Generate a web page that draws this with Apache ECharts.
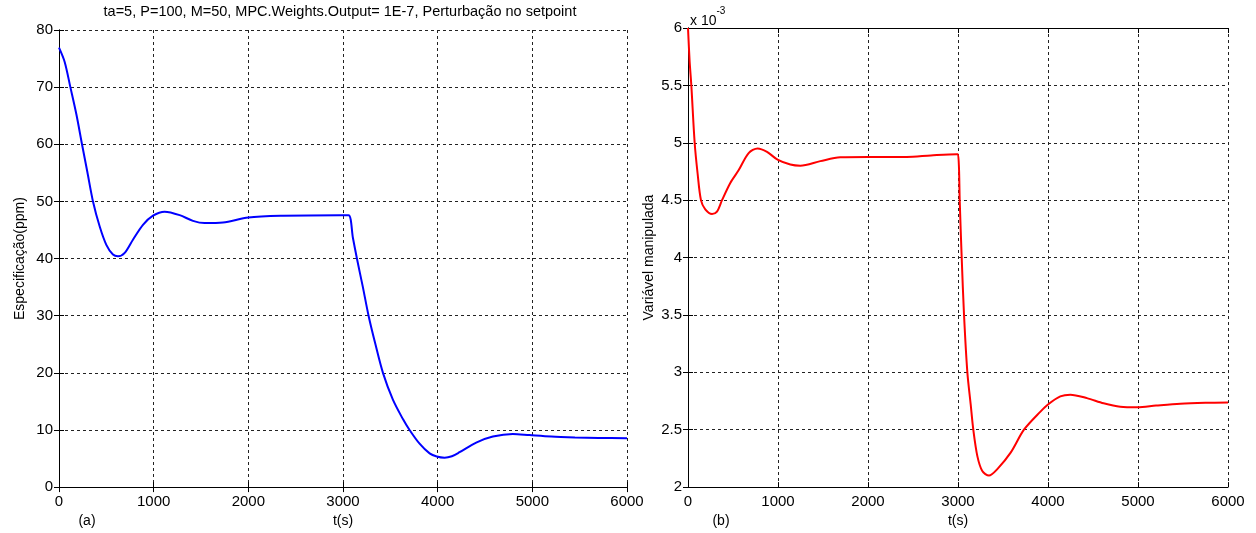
<!DOCTYPE html>
<html>
<head>
<meta charset="utf-8">
<script src="https://cdn.jsdelivr.net/npm/echarts@6/dist/echarts.min.js"></script>
<style>
  html, body { margin: 0; padding: 0; background: #fff; }
  #chart { width: 1256px; height: 533px; }
</style>
</head>
<body>
<div id="chart"></div>
<script>
// (a) Especificação (ppm) versus t(s)
const timeA = [0, 60, 120, 184, 243, 300, 359, 430, 500, 570, 623, 694, 781, 887, 993, 1116, 1275, 1415, 1538, 1732,
  2000, 2366, 2964, 3059, 3105, 3147, 3210, 3270, 3344, 3422, 3527, 3633, 3703, 3809, 3915, 3990, 4073, 4150, 4231,
  4407, 4583, 4794, 4970, 5200, 5450, 5700, 6000];
const specA = [76.9, 74.4, 70, 65.2, 60, 55.1, 50, 45.6, 42.4, 40.7, 40.4, 41.0, 43.3, 45.9, 47.5, 48.2, 47.6, 46.6,
  46.2, 46.3, 47.2, 47.5, 47.6, 47.6, 43.6, 40, 35.0, 30, 24.9, 20, 15.3, 11.9, 10, 7.6, 5.9, 5.35, 5.15, 5.4, 6.1,
  7.8, 8.85, 9.3, 9.1, 8.85, 8.7, 8.6, 8.55];

// (b) Variável manipulada (x 10^-3) versus t(s)
const timeB = [0, 18, 37, 74, 107, 144, 192, 267, 322, 378, 470, 562, 674, 773, 878, 1000, 1137, 1248, 1470, 1692,
  2000, 2430, 2700, 2990, 3000, 3011, 3019, 3041, 3067, 3104, 3141, 3170, 3215, 3270, 3344, 3437, 3585, 3733, 3919,
  4000, 4137, 4248, 4433, 4618, 4803, 4993, 5200, 5470, 5750, 6000];
const manipB = [6.0, 5.71, 5.5, 5.0, 4.73, 4.5, 4.42, 4.38, 4.40, 4.5, 4.65, 4.76, 4.91, 4.95, 4.92, 4.85, 4.81, 4.80,
  4.84, 4.874, 4.877, 4.877, 4.89, 4.90, 4.90, 4.78, 4.5, 4.0, 3.5, 3.0, 2.72, 2.5, 2.27, 2.14, 2.10, 2.157, 2.30,
  2.5, 2.66, 2.72, 2.79, 2.805, 2.775, 2.73, 2.70, 2.695, 2.71, 2.727, 2.735, 2.738];

const xTicks = [0, 6000, 1000];
const yTicksA = [0, 80, 10];
const yTicksB = [2, 6, 0.5];

const FONT = 'Liberation Sans, Arial, sans-serif';
const pair = (xs, ys) => xs.map((x, i) => [x, ys[i]]);

const gridLine = { show: true, lineStyle: { color: '#222', type: [3, 3], width: 1 } };
const tick = { show: true, inside: true, length: 5, lineStyle: { color: '#000' } };

const mainX = (gridIndex) => ({
  type: 'value', gridIndex, min: xTicks[0], max: xTicks[1], interval: xTicks[2],
  name: 't(s)', nameLocation: 'middle', nameGap: 24,
  nameTextStyle: { fontFamily: FONT, fontSize: 14, color: '#000' },
  axisLine: { show: true, lineStyle: { color: '#000' } },
  axisTick: tick,
  axisLabel: { fontFamily: FONT, fontSize: 15, color: '#000', margin: 7, formatter: (v) => String(v) },
  splitLine: gridLine,
});
const topX = (gridIndex) => ({
  type: 'value', gridIndex, position: 'top', min: xTicks[0], max: xTicks[1], interval: xTicks[2],
  axisLine: { show: true, lineStyle: { color: '#000' } },
  axisTick: tick, axisLabel: { show: false }, splitLine: { show: false },
});
const mainY = (gridIndex, t, name) => ({
  type: 'value', gridIndex, min: t[0], max: t[1], interval: t[2],
  name, nameLocation: 'middle', nameGap: 32,
  nameTextStyle: { fontFamily: FONT, fontSize: 14, color: '#000' },
  axisLine: { show: true, lineStyle: { color: '#000' } },
  axisTick: tick,
  axisLabel: { fontFamily: FONT, fontSize: 15, color: '#000', margin: 6 },
  splitLine: gridLine,
});
const rightY = (gridIndex, t) => ({
  type: 'value', gridIndex, position: 'right', min: t[0], max: t[1], interval: t[2],
  axisLine: { show: true, lineStyle: { color: '#000' } },
  axisTick: tick, axisLabel: { show: false }, splitLine: { show: false },
});

const chart = echarts.init(document.getElementById('chart'), null, { renderer: 'canvas' });
chart.setOption({
  animation: false,
  backgroundColor: '#fff',
  grid: [
    { left: 59, right: 629, top: 30, bottom: 41 },
    { left: 688, right: 28, top: 28, bottom: 41 },
  ],
  xAxis: [mainX(0), mainX(1), topX(0), topX(1)],
  yAxis: [mainY(0, yTicksA, 'Especificação(ppm)'), mainY(1, yTicksB, 'Variável manipulada'), rightY(0, yTicksA), rightY(1, yTicksB)],
  series: [
    {
      type: 'line', xAxisIndex: 0, yAxisIndex: 0, data: pair(timeA, specA),
      showSymbol: false, smooth: 0.3, lineStyle: { color: '#0000ff', width: 2 },
    },
    {
      type: 'line', xAxisIndex: 1, yAxisIndex: 1, data: pair(timeB, manipB),
      showSymbol: false, smooth: 0.3, lineStyle: { color: '#ff0000', width: 2 },
    },
  ],
  graphic: [
    {
      type: 'text', x: 340, y: 12,
      style: { text: 'ta=5, P=100, M=50, MPC.Weights.Output= 1E-7, Perturbação no setpoint', font: '14.5px ' + FONT, fill: '#000', align: 'center', verticalAlign: 'middle' },
    },
    { type: 'text', x: 87, y: 521, style: { text: '(a)', font: '14px ' + FONT, fill: '#000', align: 'center', verticalAlign: 'middle' } },
    { type: 'text', x: 721, y: 521, style: { text: '(b)', font: '14px ' + FONT, fill: '#000', align: 'center', verticalAlign: 'middle' } },
    {
      type: 'text', x: 690, y: 6,
      style: {
        text: '{a|x 10}{s|-3}', fill: '#000',
        rich: {
          a: { fontFamily: FONT, fontSize: 14, color: '#000', padding: [8, 0, 0, 0] },
          s: { fontFamily: FONT, fontSize: 10, color: '#000', verticalAlign: 'top' },
        },
      },
    },
  ],
});
</script>
</body>
</html>
